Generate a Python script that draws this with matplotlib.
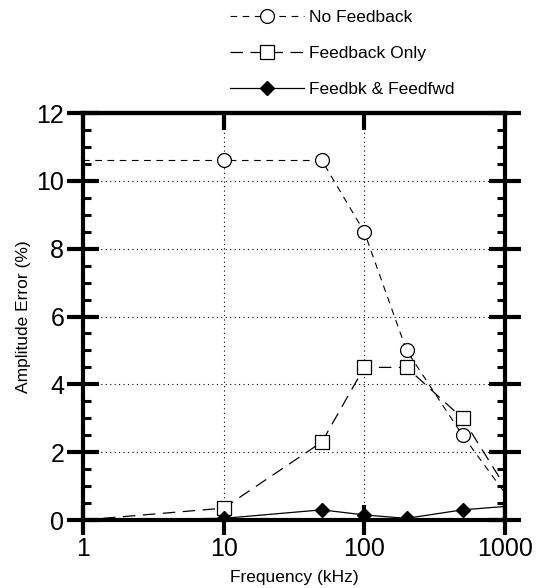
import matplotlib
matplotlib.use("Agg")
import matplotlib.pyplot as plt
from matplotlib.ticker import MultipleLocator, FixedLocator, NullLocator, FixedFormatter

plt.rcParams['font.family'] = ['Liberation Sans', 'DejaVu Sans']

freq = [1, 10, 50, 100, 200, 500, 1000]
no_feedback = [10.6, 10.6, 10.6, 8.5, 5.0, 2.5, 0.8]
feedback_only = [0.0, 0.35, 2.3, 4.5, 4.5, 3.0, 1.0]
feedbk_feedfwd = [0.0, 0.05, 0.3, 0.15, 0.05, 0.3, 0.4]
series_labels = ["No Feedback", "Feedback Only", "Feedbk & Feedfwd"]
xtick_vals = [1, 10, 100, 1000]
xtick_labels = ["1", "10", "100", "1000"]

fig = plt.figure(figsize=(5.44, 5.88), dpi=100)
ax = fig.add_axes([0.1526, 0.1156, 0.928 - 0.1526, 0.8078 - 0.1156])

mk = slice(1, -1)
ax.plot(freq, no_feedback, color='black', lw=0.8, dashes=(6, 5),
        marker='o', mfc='white', mec='black', ms=10, mew=0.9, markevery=mk,
        label=series_labels[0], zorder=3)
ax.plot(freq, feedback_only, color='black', lw=0.9, dashes=(10, 6),
        marker='s', mfc='white', mec='black', ms=10, mew=0.9, markevery=mk,
        label=series_labels[1], zorder=3)
ax.plot(freq, feedbk_feedfwd, color='black', lw=0.9, linestyle='-',
        marker='D', mfc='black', mec='black', ms=7.5, markevery=mk,
        label=series_labels[2], zorder=4)

ax.set_xscale('log')
ax.set_xlim(1, 1000)
ax.set_ylim(0, 12)

ax.xaxis.set_major_locator(FixedLocator(xtick_vals))
ax.xaxis.set_major_formatter(FixedFormatter(xtick_labels))
ax.xaxis.set_minor_locator(NullLocator())
ax.yaxis.set_major_locator(MultipleLocator(2))
ax.yaxis.set_minor_locator(MultipleLocator(0.5))

for s in ax.spines.values():
    s.set_linewidth(3)

ax.tick_params(axis='y', which='major', direction='inout', length=23, width=3,
               left=True, right=True, labelsize=18, pad=2)
ax.tick_params(axis='y', which='minor', direction='in', length=6, width=2.2,
               left=True, right=True)
ax.tick_params(axis='x', which='major', direction='inout', length=22, width=3,
               bottom=True, top=False, labelsize=18, pad=1)

sec = ax.secondary_xaxis('top')
sec.xaxis.set_major_locator(FixedLocator(xtick_vals))
sec.xaxis.set_minor_locator(NullLocator())
sec.tick_params(axis='x', which='major', direction='in', length=12, width=3,
                labeltop=False)
sec.spines['top'].set_linewidth(3)

ax.grid(True, which='major', linestyle=(0, (1, 3)), color='black', lw=0.8)

ax.set_xlabel("Frequency (kHz)", fontsize=12.5, labelpad=7)
ax.set_ylabel("Amplitude Error (%)", fontsize=12.5, labelpad=4)

fig.legend(loc='upper left', bbox_to_anchor=(0.422, 0.983), frameon=False,
           fontsize=12.5, handlelength=4.3, handletextpad=0.3,
           labelspacing=1.2, borderpad=0, borderaxespad=0)

fig.savefig("out.png", dpi=100)
